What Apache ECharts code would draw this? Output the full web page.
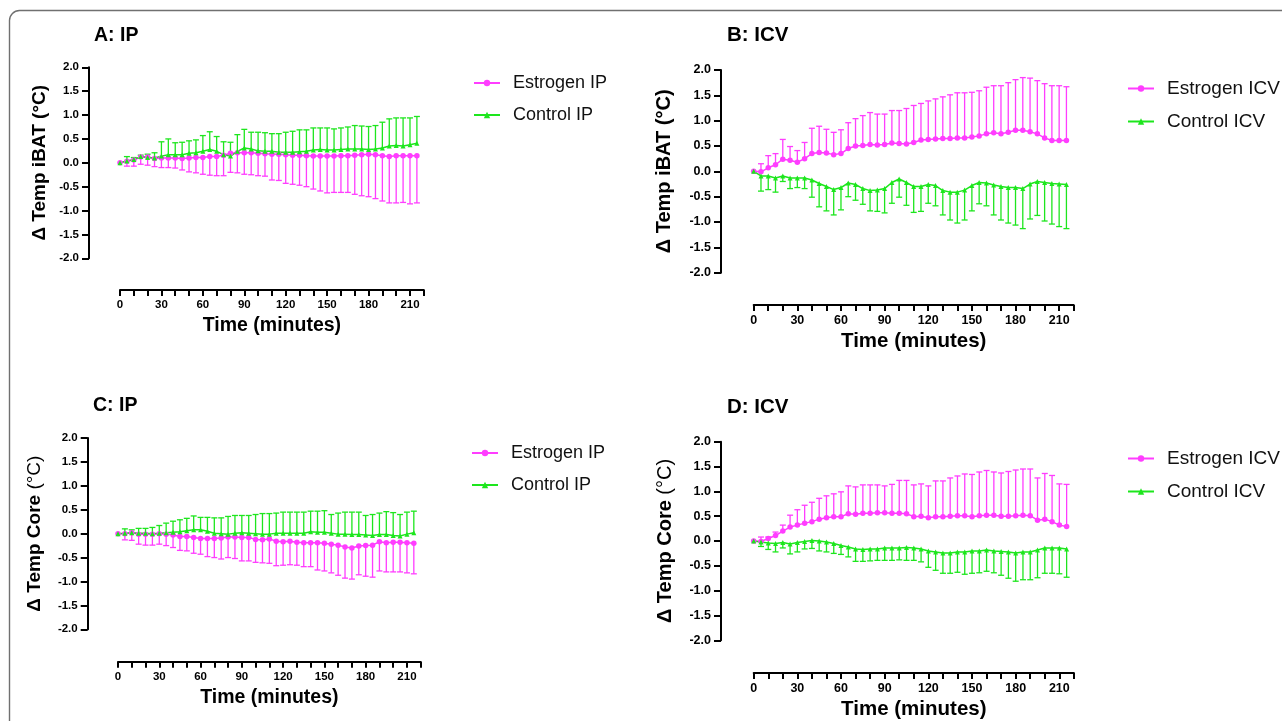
<!DOCTYPE html>
<html><head><meta charset="utf-8">
<script src="https://cdn.jsdelivr.net/npm/echarts@6/dist/echarts.min.js"></script>
<style>html,body{margin:0;padding:0;background:#fff;}#c{width:1282px;height:721px;}</style>
</head><body><div id="c"></div>
<script>
// ---------- DATA ----------
const timeMin = [0,5,10,15,20,25,30,35,40,45,50,55,60,65,70,75,80,85,90,95,100,105,110,115,120,125,130,135,140,145,150,155,160,165,170,175,180,185,190,195,200,205,210,215];
const xTickLabels = [0,30,60,90,120,150,180,210];
const panelTitles = ['A: IP','B: ICV','C: IP','D: ICV'];
const legendNames = [['Estrogen IP','Control IP'],['Estrogen ICV','Control ICV'],['Estrogen IP','Control IP'],['Estrogen ICV','Control ICV']];

// Panel A: iBAT, IP
const estrA_mean = [0,0.03,0.06,0.12,0.12,0.09,0.10,0.10,0.10,0.09,0.10,0.11,0.11,0.13,0.13,0.16,0.20,0.21,0.21,0.21,0.20,0.19,0.18,0.18,0.17,0.16,0.16,0.15,0.14,0.14,0.14,0.14,0.15,0.15,0.16,0.17,0.18,0.17,0.15,0.13,0.15,0.15,0.15,0.15];
const estrA_err  = [0,0.10,0.13,0.15,0.17,0.17,0.20,0.20,0.21,0.24,0.29,0.32,0.35,0.39,0.40,0.43,0.40,0.42,0.45,0.46,0.47,0.47,0.54,0.55,0.60,0.61,0.63,0.65,0.69,0.73,0.77,0.76,0.77,0.77,0.82,0.86,0.89,0.92,0.95,0.97,0.99,0.98,1.01,0.99];
const ctrlA_mean = [0,0.04,0.07,0.13,0.11,0.10,0.14,0.17,0.17,0.17,0.20,0.21,0.24,0.28,0.24,0.17,0.14,0.24,0.31,0.29,0.25,0.24,0.24,0.22,0.22,0.22,0.23,0.24,0.27,0.28,0.27,0.27,0.28,0.29,0.29,0.29,0.28,0.29,0.31,0.35,0.36,0.35,0.38,0.41];
const ctrlA_err  = [0,0.09,0.04,0.03,0.07,0.11,0.30,0.33,0.25,0.26,0.26,0.27,0.33,0.37,0.31,0.27,0.29,0.35,0.39,0.35,0.39,0.39,0.37,0.39,0.42,0.44,0.46,0.45,0.46,0.45,0.46,0.44,0.45,0.46,0.49,0.48,0.48,0.49,0.54,0.57,0.58,0.59,0.56,0.56];

// Panel B: iBAT, ICV
const estrB_mean = [0,-0.01,0.07,0.13,0.24,0.22,0.18,0.25,0.35,0.37,0.36,0.33,0.35,0.45,0.50,0.51,0.53,0.52,0.53,0.56,0.55,0.54,0.57,0.62,0.63,0.64,0.65,0.65,0.66,0.66,0.68,0.70,0.74,0.76,0.74,0.77,0.81,0.81,0.78,0.74,0.66,0.61,0.61,0.61];
const estrB_err  = [0,0.16,0.24,0.22,0.39,0.27,0.23,0.32,0.50,0.52,0.47,0.44,0.47,0.51,0.54,0.59,0.63,0.61,0.60,0.64,0.65,0.70,0.73,0.72,0.76,0.79,0.82,0.86,0.89,0.89,0.88,0.89,0.92,0.93,0.95,0.98,1.00,1.04,1.06,1.05,1.07,1.08,1.08,1.06];
const ctrlB_mean = [0,-0.09,-0.09,-0.13,-0.09,-0.13,-0.13,-0.13,-0.17,-0.24,-0.30,-0.36,-0.32,-0.23,-0.26,-0.34,-0.38,-0.37,-0.34,-0.22,-0.15,-0.22,-0.30,-0.30,-0.26,-0.28,-0.38,-0.41,-0.41,-0.37,-0.28,-0.22,-0.23,-0.27,-0.30,-0.32,-0.32,-0.34,-0.25,-0.20,-0.22,-0.24,-0.25,-0.26];
const ctrlB_err  = [0,0.30,0.27,0.28,0.11,0.21,0.19,0.21,0.34,0.46,0.48,0.50,0.44,0.27,0.31,0.31,0.40,0.42,0.48,0.41,0.36,0.45,0.51,0.49,0.37,0.40,0.48,0.55,0.61,0.59,0.50,0.42,0.45,0.59,0.66,0.70,0.74,0.79,0.69,0.67,0.76,0.80,0.84,0.87];

// Panel C: Core, IP
const estrC_mean = [0,0,0.02,-0.01,-0.01,-0.01,0,-0.01,-0.03,-0.06,-0.06,-0.08,-0.10,-0.10,-0.10,-0.09,-0.07,-0.07,-0.08,-0.08,-0.12,-0.13,-0.11,-0.16,-0.17,-0.16,-0.18,-0.19,-0.19,-0.19,-0.20,-0.22,-0.24,-0.28,-0.30,-0.26,-0.25,-0.24,-0.17,-0.19,-0.18,-0.18,-0.19,-0.20];
const estrC_err  = [0,0.13,0.16,0.21,0.23,0.23,0.22,0.24,0.26,0.29,0.30,0.33,0.33,0.38,0.40,0.44,0.43,0.45,0.49,0.49,0.48,0.48,0.51,0.51,0.49,0.49,0.48,0.50,0.50,0.57,0.58,0.60,0.63,0.65,0.65,0.60,0.64,0.67,0.61,0.61,0.62,0.62,0.63,0.64];
const ctrlC_mean = [0,0.01,0.02,0.01,0.01,0,0.01,0.02,0.03,0.04,0.06,0.08,0.08,0.05,0.01,0,-0.01,0.01,0.02,0.01,0,-0.01,-0.01,0.01,0.01,0.01,0.01,0.01,0.04,0.03,0.03,0.01,-0.01,-0.01,-0.02,-0.02,-0.03,-0.04,-0.02,-0.02,-0.04,-0.05,-0.01,0.02];
const ctrlC_err  = [0,0.09,0.06,0.10,0.10,0.13,0.16,0.20,0.23,0.25,0.26,0.29,0.26,0.29,0.32,0.33,0.37,0.37,0.36,0.37,0.40,0.43,0.43,0.42,0.44,0.44,0.44,0.44,0.43,0.44,0.45,0.39,0.44,0.46,0.47,0.47,0.41,0.44,0.45,0.48,0.48,0.45,0.46,0.45];

// Panel D: Core, ICV
const estrD_mean = [0,-0.01,0.05,0.11,0.20,0.28,0.32,0.36,0.39,0.44,0.47,0.49,0.49,0.55,0.54,0.56,0.56,0.57,0.57,0.56,0.56,0.55,0.49,0.50,0.47,0.49,0.49,0.50,0.51,0.51,0.49,0.51,0.52,0.52,0.50,0.50,0.51,0.52,0.51,0.42,0.44,0.39,0.32,0.29];
const estrD_err  = [0,0.09,0.03,0.07,0.12,0.24,0.31,0.36,0.39,0.42,0.44,0.46,0.50,0.56,0.55,0.57,0.57,0.56,0.54,0.58,0.66,0.67,0.64,0.65,0.64,0.72,0.72,0.77,0.80,0.84,0.85,0.88,0.90,0.87,0.87,0.90,0.92,0.93,0.94,0.85,0.92,0.93,0.83,0.85];
const ctrlD_mean = [0,-0.02,-0.04,-0.05,-0.03,-0.06,-0.03,-0.01,0.01,0,-0.02,-0.05,-0.09,-0.12,-0.16,-0.17,-0.16,-0.16,-0.14,-0.14,-0.14,-0.13,-0.14,-0.16,-0.20,-0.22,-0.24,-0.24,-0.22,-0.22,-0.20,-0.20,-0.18,-0.20,-0.21,-0.22,-0.24,-0.22,-0.22,-0.18,-0.14,-0.14,-0.14,-0.16];
const ctrlD_err  = [0,0.09,0.13,0.17,0.11,0.20,0.19,0.15,0.16,0.20,0.20,0.20,0.18,0.20,0.25,0.24,0.24,0.23,0.25,0.25,0.24,0.26,0.25,0.26,0.33,0.37,0.41,0.41,0.41,0.45,0.45,0.44,0.43,0.44,0.48,0.53,0.57,0.56,0.56,0.56,0.51,0.51,0.52,0.57];

// error bar direction per panel: [estrogen, control] (+1 up, -1 down)
const errDir = [[-1,1],[1,-1],[-1,1],[1,-1]];

// ---------- LAYOUT / STYLE ----------
const FONT = '"Liberation Sans", Arial, Helvetica, sans-serif';
const MAGENTA = '#ff3dff';
const GREEN = '#1de61d';
const X_MAX = 220;
const panels = [
  {grid:{left:120,top:67.3,width:303.8,height:191}, yOff:31, xOff:31.7, title:{left:94,top:26}, legend:{left:473,top:74},
   yName:'{b|Δ Temp iBAT (°C)}', yNameGap:40, tick:11.5, big:19.5, leg:18, means:[estrA_mean,ctrlA_mean], errs:[estrA_err,ctrlA_err]},
  {grid:{left:753.7,top:70,width:320,height:202.7}, yOff:32.7, xOff:32.3, title:{left:727,top:25}, legend:{left:1127,top:79},
   yName:'{b|Δ Temp iBAT (°C)}', yNameGap:47, tick:12.5, big:20.5, leg:19, means:[estrB_mean,ctrlB_mean], errs:[estrB_err,ctrlB_err]},
  {grid:{left:118,top:438,width:302.7,height:191.3}, yOff:30.3, xOff:32.4, title:{left:93,top:396}, legend:{left:471,top:444},
   yName:'{b|Δ Temp Core }{n|(°C)}', yNameGap:43, tick:11.5, big:19.5, leg:18, means:[estrC_mean,ctrlC_mean], errs:[estrC_err,ctrlC_err]},
  {grid:{left:753.7,top:441.7,width:320.2,height:202.3}, yOff:32.7, xOff:32.7, title:{left:727,top:397}, legend:{left:1127,top:449},
   yName:'{b|Δ Temp Core }{n|(°C)}', yNameGap:46, tick:12.5, big:20.5, leg:19, means:[estrD_mean,ctrlD_mean], errs:[estrD_err,ctrlD_err]}
];

function makeErrRender(color) {
  return function (params, api) {
    const x = api.value(0), m = api.value(1), e = api.value(2), d = api.value(3);
    if (!e) return null;
    const p0 = api.coord([x, m]);
    const p1 = api.coord([x, m + d * e]);
    const cap = 3;
    return {type:'group', children:[
      {type:'line', shape:{x1:p0[0], y1:p0[1], x2:p1[0], y2:p1[1]}, style:{stroke:color, lineWidth:1.3}},
      {type:'line', shape:{x1:p1[0]-cap, y1:p1[1], x2:p1[0]+cap, y2:p1[1]}, style:{stroke:color, lineWidth:1.3}}
    ]};
  };
}

const option = {
  animation:false,
  backgroundColor:'#fff',
  title:[], legend:[], grid:[], xAxis:[], yAxis:[], series:[],
  graphic:[{type:'rect', silent:true, shape:{x:9.5, y:10.5, width:1400, height:900, r:10},
            style:{fill:'none', stroke:'#707070', lineWidth:1.4}}]
};

panels.forEach((p, i) => {
  option.title.push({text:panelTitles[i], left:p.title.left, top:p.title.top, padding:0,
    textStyle:{fontFamily:FONT, fontWeight:'bold', fontSize:p.big, color:'#000'}});
  option.grid.push(Object.assign({containLabel:false}, p.grid));
  option.xAxis.push({gridIndex:i, type:'value', min:0, max:X_MAX, interval:10, offset:p.xOff, position:'bottom',
    axisLine:{show:true, onZero:false, lineStyle:{color:'#000', width:2}},
    axisTick:{show:true, length:6, lineStyle:{color:'#000', width:2}},
    axisLabel:{formatter:v => xTickLabels.indexOf(v) >= 0 ? String(v) : '', fontFamily:FONT, fontWeight:'bold',
      fontSize:p.tick, color:'#000', margin:9},
    splitLine:{show:false},
    name:'Time (minutes)', nameLocation:'middle', nameGap:26,
    nameTextStyle:{fontFamily:FONT, fontWeight:'bold', fontSize:p.big, color:'#000'}});
  option.yAxis.push({gridIndex:i, type:'value', min:-2, max:2, interval:0.5, offset:p.yOff, position:'left',
    axisLine:{show:true, onZero:false, lineStyle:{color:'#000', width:2}},
    axisTick:{show:true, length:7, lineStyle:{color:'#000', width:2}},
    axisLabel:{formatter:v => v.toFixed(1), fontFamily:FONT, fontWeight:'bold', fontSize:p.tick, color:'#000', margin:10},
    splitLine:{show:false},
    name:p.yName, nameLocation:'middle', nameGap:p.yNameGap,
    nameTextStyle:{rich:{
      b:{fontFamily:FONT, fontWeight:'bold', fontSize:p.big - 0.5, color:'#000'},
      n:{fontFamily:FONT, fontWeight:'normal', fontSize:p.big - 0.5, color:'#000'}}}});
  option.legend.push({left:p.legend.left, top:p.legend.top, padding:0, orient:'vertical', itemWidth:26, itemHeight:8, itemGap:14,
    data:legendNames[i], selectedMode:false,
    textStyle:{fontFamily:FONT, fontSize:p.leg, color:'#111', padding:[0,0,0,8]}});

  const colors = [MAGENTA, GREEN];
  const symbols = ['circle', 'triangle'];
  const pxPerMin = p.grid.width / X_MAX;
  [0,1].forEach(k => {
    const mean = p.means[k], err = p.errs[k];
    option.series.push({type:'custom', name:'err'+i+k, xAxisIndex:i, yAxisIndex:i, z:1,
      itemStyle:{color:colors[k]}, renderItem:makeErrRender(colors[k]),
      data: timeMin.map((t, j) => [t, mean[j], err[j], errDir[i][k]])});
  });
  [0,1].forEach(k => {
    const s = {type:'line', name:legendNames[i][k], xAxisIndex:i, yAxisIndex:i, z:3,
      symbol:symbols[k], symbolSize:k === 0 ? 5.5 : 5, showSymbol:true,
      itemStyle:{color:colors[k]}, lineStyle:{color:colors[k], width:1.5},
      data: timeMin.map((t, j) => [t, p.means[k][j]])};
    if (k === 0) {
      s.markLine = {silent:true, symbol:'none', label:{show:false}, z:2,
        lineStyle:{color:'#000', type:[2,3], width:2},
        data:[[{coord:[-p.yOff / pxPerMin, 0]}, {coord:[219, 0]}]]};
    }
    option.series.push(s);
  });
});

const chart = echarts.init(document.getElementById('c'), null, {renderer:'canvas'});
chart.setOption(option);
</script>
</body></html>
